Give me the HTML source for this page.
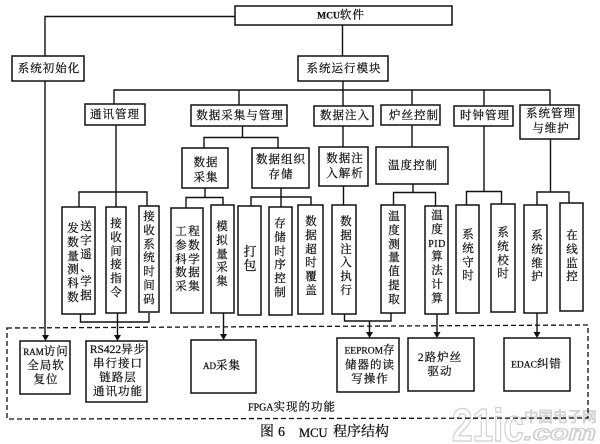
<!DOCTYPE html>
<html><head><meta charset="utf-8">
<style>
html,body{margin:0;padding:0;background:#fff;}
#p{position:relative;width:600px;height:444px;overflow:hidden;background:#fff;font-family:"Liberation Serif","Noto Serif CJK SC",serif;color:#111;font-size:11.5px;-webkit-text-stroke:.25px #111;}
svg{position:absolute;left:0;top:0;}
.h{position:absolute;transform:translate(-50%,-50%);white-space:nowrap;text-align:center;letter-spacing:1px;line-height:14px;}
.v{position:absolute;width:20px;margin-left:-10px;text-align:center;line-height:13.8px;white-space:nowrap;}
.c{position:absolute;font-size:14px;line-height:16px;top:425px;white-space:nowrap;font-family:"Liberation Serif","Noto Serif CJK SC",serif;}
.b{fill:#fff;stroke:#111;stroke-width:1.5;}
.l{fill:none;stroke:#111;stroke-width:1.4;}
</style></head><body><div id="p">
<svg width="600" height="444" viewBox="0 0 600 444" style="-webkit-text-stroke:0">
<g font-family="Liberation Sans, sans-serif" font-weight="bold" fill="#fff" stroke="#cfcfcf" stroke-width="1.3">
<text x="452" y="441" font-size="46" textLength="72" lengthAdjust="spacingAndGlyphs">21ic</text>
<text x="524" y="440" font-size="21" font-style="italic" textLength="72" lengthAdjust="spacingAndGlyphs">.com</text>
</g>
<text x="524" y="422" font-family="Noto Sans CJK SC, sans-serif" font-size="14.5" fill="#eee" stroke="#cfcfcf" stroke-width=".8">中国电子网</text>
<path d="M7 328L588 325V418L7 419Z" fill="none" stroke="#111" stroke-width="1.3" stroke-dasharray="5 3"/>
<path class="l" d="M235 16.500H45V56M45 81V336M342.500 25V56M343 81V106M114 104V90H550V105M239 90V105M412 90V105M484 90V106
M116 125V207M79 207V192H147V206
M242.500 126V137.500M204 148V137.500H278V148
M205 188V197.500M186 208V197.500H223V205
M281 188V207M251 206V197H311V205
M343 126V147M343.500 186V205
M412 125V147M413 184V192.500M393.500 205V192.500H435.500V206
M484 126V191.500M466.500 205V191.500H501.500V204
M550.500 139V192M537 205V192H569V203
M80.500 314V322H149V313M117.500 313V336
M223.500 313V335
M344.500 314V321H391V313M369.500 321V333
M437 314V333
M537 313V333"/>
<path fill="#111" d="M42 335h7l-3.500 6zM114 335h7l-3.500 6zM220 334h7l-3.500 6zM366 332h7l-3.500 6zM433.500 332h7l-3.500 6zM533.500 332h7l-3.500 6z"/>
<g class="b">
<rect x="235" y="6" width="217" height="19"/>
<rect x="12" y="56" width="72" height="25"/>
<rect x="298" y="56" width="90" height="25"/>
<rect x="85" y="104" width="60" height="21"/>
<rect x="191" y="105" width="96" height="21"/>
<rect x="314" y="106" width="59" height="20"/>
<rect x="381" y="105" width="59" height="20"/>
<rect x="454" y="106" width="59" height="20"/>
<rect x="520" y="105" width="59" height="34"/>
<rect x="182" y="148" width="46" height="40"/>
<rect x="252" y="148" width="57" height="40"/>
<rect x="319" y="147" width="49" height="39"/>
<rect x="376" y="147" width="72" height="37"/>
<rect x="62" y="207" width="33" height="107"/>
<rect x="106" y="207" width="20" height="106"/>
<rect x="139" y="206" width="20" height="106"/>
<rect x="171" y="208" width="32" height="105"/>
<rect x="211" y="205" width="23" height="108"/>
<rect x="238" y="206" width="23" height="109"/>
<rect x="269" y="207" width="23" height="108"/>
<rect x="298" y="205" width="25" height="109"/>
<rect x="332" y="205" width="24" height="109"/>
<rect x="381" y="205" width="24" height="108"/>
<rect x="425" y="206" width="23" height="108"/>
<rect x="456" y="205" width="23" height="108"/>
<rect x="491" y="204" width="24" height="108"/>
<rect x="524" y="205" width="23" height="108"/>
<rect x="560" y="203" width="23" height="108"/>
<rect x="20" y="341" width="50" height="53"/>
<rect x="86" y="341" width="61" height="61"/>
<rect x="191" y="340" width="65" height="53"/>
<rect x="337" y="338" width="62" height="54"/>
<rect x="408" y="338" width="66" height="53"/>
<rect x="504" y="338" width="66" height="53"/>
</g>
</svg>
<div class="h" style="left:341px;top:16px"><span style="font-size:9.5px;letter-spacing:0;font-weight:bold">MCU</span>软件</div>
<div class="h" style="left:49px;top:69px">系统初始化</div>
<div class="h" style="left:344px;top:69px">系统运行模块</div>
<div class="h" style="left:115px;top:115px">通讯管理</div>
<div class="h" style="left:240px;top:116px">数据采集与管理</div>
<div class="h" style="left:345px;top:116px">数据注入</div>
<div class="h" style="left:414px;top:116px">炉丝控制</div>
<div class="h" style="left:485px;top:116px">时钟管理</div>
<div class="h" style="left:551px;top:122px;line-height:15px">系统管理<br>与维护</div>
<div class="h" style="left:206px;top:171px;line-height:15px">数据<br>采集</div>
<div class="h" style="left:281px;top:168px;line-height:15px">数据组织<br>存储</div>
<div class="h" style="left:345px;top:167px;line-height:15px">数据注<br>入解析</div>
<div class="h" style="left:413px;top:166px">温度控制</div>

<div class="v" style="left:73px;top:223px">发<br>数<br>量<br>测<br>科<br>数</div>
<div class="v" style="left:86px;top:221px">送<br>字<br>遥<br>、<br>学<br>据</div>
<div class="v" style="left:116px;top:218px">接<br>收<br>间<br>接<br>指<br>令</div>
<div class="v" style="left:149px;top:211px">接<br>收<br>系<br>统<br>时<br>间<br>码</div>
<div class="v" style="left:181px;top:226px">工<br>参<br>科<br>数<br>采</div>
<div class="v" style="left:194px;top:226px">程<br>数<br>学<br>据<br>集</div>
<div class="v" style="left:222px;top:221px">模<br>拟<br>量<br>采<br>集</div>
<div class="v" style="left:250px;top:245px;font-size:13px">打<br>包</div>
<div class="v" style="left:280px;top:218px">存<br>储<br>时<br>序<br>控<br>制</div>
<div class="v" style="left:311px;top:216px">数<br>据<br>超<br>时<br>覆<br>盖</div>
<div class="v" style="left:346px;top:216px">数<br>据<br>注<br>入<br>执<br>行</div>
<div class="v" style="left:394px;top:211px">温<br>度<br>测<br>量<br>值<br>提<br>取</div>
<div class="v" style="left:437px;top:210px">温<br>度<br><span style="font-size:10px;letter-spacing:.5px">PID</span><br>算<br>法<br>计<br>算</div>
<div class="v" style="left:468px;top:229px">系<br>统<br>守<br>时</div>
<div class="v" style="left:503px;top:227px">系<br>统<br>校<br>时</div>
<div class="v" style="left:537px;top:230px">系<br>统<br>维<br>护</div>
<div class="v" style="left:572px;top:230px">在<br>线<br>监<br>控</div>

<div class="h" style="left:46px;top:366px"><span style="font-size:9px;letter-spacing:0">RAM</span>访问<br>全局软<br>复位</div>
<div class="h" style="left:118px;top:371px"><span style="font-size:11.500px;letter-spacing:0">RS422</span>异步<br>串行接口<br>链路层<br>通讯功能</div>
<div class="h" style="left:222px;top:366px"><span style="font-size:9px;letter-spacing:0">AD</span>采集</div>
<div class="h" style="left:370px;top:365px"><span style="font-size:9.500px;letter-spacing:0">EEPROM</span>存<br>储器的读<br>写操作</div>
<div class="h" style="left:440px;top:365px">2路炉丝<br>驱动</div>
<div class="h" style="left:536.500px;top:365px"><span style="font-size:9.500px;letter-spacing:0">EDAC</span>纠错</div>
<div class="h" style="left:292px;top:408px"><span style="font-size:10px;letter-spacing:0">FPGA</span>实现的功能</div>
<div class="c" style="left:260px">图</div>
<div class="c" style="left:278px">6</div>
<div class="c" style="left:299px;font-size:12.500px">MCU</div>
<div class="c" style="left:333px">程序结构</div>
</div></body></html>
